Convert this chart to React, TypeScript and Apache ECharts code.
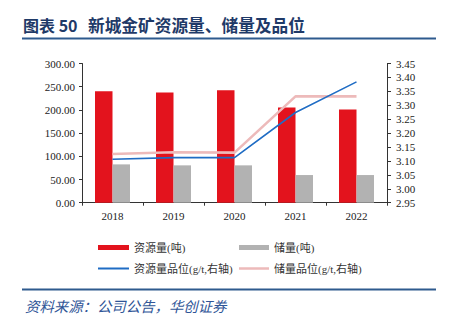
import React, { useEffect, useRef } from "react";
import * as echarts from "echarts";

const categories = ["2018", "2019", "2020", "2021", "2022"];
const resourceTons = [240.4, 237.6, 242.5, 205.3, 201.0];
const reserveTons = [82.6, 80.5, 80.5, 59.6, 59.6];
const resourceGrade = [3.106, 3.112, 3.112, 3.274, 3.384];
const reserveGrade = [3.125, 3.131, 3.13, 3.332, 3.332];

const seriesNames = ["资源量(吨)", "储量(吨)", "资源量品位(g/t,右轴)", "储量品位(g/t,右轴)"];
const titleLabel = "图表 50";
const titleText = "新城金矿资源量、储量及品位";
const sourceText = "资料来源：公司公告，华创证券";

const RED = "#E3131D";
const GRAY = "#B2B2B2";
const BLUE = "#1F6CC4";
const PINK = "#EDBABA";
const NAVY = "#1F3A68";
const FONT = "'Liberation Serif', 'Noto Sans CJK SC', serif";
const CJK = "'Noto Sans CJK SC', sans-serif";

export default function App() {
  const ref = useRef<HTMLDivElement>(null);
  useEffect(() => {
    if (!ref.current) return;
    const chart = echarts.init(ref.current, undefined, { renderer: "svg" });
    const legendText = { fontFamily: FONT, fontSize: 11, color: "#333" };
    chart.setOption({
      animation: false,
      backgroundColor: "#fff",
      grid: { left: 82, right: 69, top: 63.5, bottom: 119.3 },
      textStyle: { fontFamily: FONT },
      graphic: [
        {
          type: "text",
          left: 23,
          top: 17,
          style: { text: titleLabel, fontFamily: CJK, fontWeight: "bold", fontSize: 16, fill: NAVY },
        },
        {
          type: "text",
          left: 88,
          top: 16.5,
          style: { text: titleText, fontFamily: CJK, fontWeight: "bold", fontSize: 16.7, fill: NAVY },
        },
        { type: "rect", shape: { x: 22, y: 37.5, width: 414, height: 2 }, style: { fill: "#2E5A8E" } },
        { type: "rect", shape: { x: 22, y: 288.5, width: 414, height: 2 }, style: { fill: "#2E5A8E" } },
        {
          type: "text",
          left: 25,
          top: 298,
          style: { text: sourceText, fontFamily: CJK, fontStyle: "italic", fontSize: 14.4, fill: "#2F5597" },
        },
      ],
      legend: [
        { left: 93, top: 237, itemWidth: 31, itemHeight: 5, textStyle: legendText, itemGap: 4, data: [{ name: seriesNames[0], icon: "rect" }] },
        { left: 234, top: 237, itemWidth: 30, itemHeight: 5, textStyle: legendText, data: [{ name: seriesNames[1], icon: "rect" }] },
        { left: 93, top: 258, itemWidth: 31, itemHeight: 2, textStyle: legendText, data: [{ name: seriesNames[2], icon: "rect", itemStyle: { color: BLUE } }] },
        { left: 234, top: 258, itemWidth: 30, itemHeight: 2.5, textStyle: legendText, data: [{ name: seriesNames[3], icon: "rect", itemStyle: { color: PINK } }] },
      ],
      xAxis: {
        type: "category",
        data: categories,
        axisLine: { lineStyle: { color: "#333", width: 1 } },
        axisTick: { show: true, length: 3, lineStyle: { color: "#333" } },
        axisLabel: { fontFamily: FONT, fontSize: 11, color: "#222", margin: 8 },
      },
      yAxis: [
        {
          type: "value",
          min: 0,
          max: 300,
          interval: 50,
          axisLine: { show: true, lineStyle: { color: "#333" } },
          axisTick: { show: true, length: 3, lineStyle: { color: "#333" } },
          splitLine: { show: false },
          axisLabel: { fontFamily: FONT, fontSize: 11, color: "#222", margin: 7, formatter: (v: number) => v.toFixed(2) },
        },
        {
          type: "value",
          min: 2.95,
          max: 3.45,
          interval: 0.05,
          position: "right",
          axisLine: { show: true, lineStyle: { color: "#333" } },
          axisTick: { show: true, length: 4, lineStyle: { color: "#333" } },
          splitLine: { show: false },
          axisLabel: { fontFamily: FONT, fontSize: 11, color: "#222", margin: 9, formatter: (v: number) => v.toFixed(2) },
        },
      ],
      series: [
        { name: seriesNames[0], type: "bar", data: resourceTons, barWidth: 17.5, barGap: "0%", itemStyle: { color: RED } },
        { name: seriesNames[1], type: "bar", data: reserveTons, barWidth: 17.5, barGap: "0%", itemStyle: { color: GRAY } },
        {
          name: seriesNames[2],
          type: "line",
          yAxisIndex: 1,
          data: resourceGrade,
          showSymbol: false,
          symbol: "none",
          lineStyle: { color: BLUE, width: 1.6 },
          itemStyle: { color: BLUE },
          z: 4,
        },
        {
          name: seriesNames[3],
          type: "line",
          yAxisIndex: 1,
          data: reserveGrade,
          showSymbol: false,
          symbol: "none",
          lineStyle: { color: PINK, width: 2.6 },
          itemStyle: { color: PINK },
          z: 3,
        },
      ],
    });
    return () => chart.dispose();
  }, []);
  return <div ref={ref} style={{ width: 456, height: 322, position: "absolute", left: 0, top: 0 }} />;
}
